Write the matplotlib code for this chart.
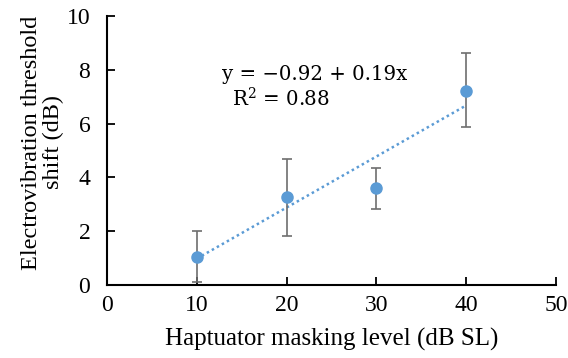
import matplotlib
matplotlib.use("Agg")
import matplotlib.pyplot as plt

masking = [10, 20, 30, 40]
shift = [1.05, 3.26, 3.59, 7.22]
err_low = [0.93, 1.43, 0.77, 1.36]
err_high = [0.95, 1.42, 0.77, 1.39]
intercept, slope = -0.92, 0.19

SERIF = ["Liberation Serif", "DejaVu Serif"]
EQF = ["DejaVu Serif"]
plt.rcParams['font.family'] = SERIF
plt.rcParams['mathtext.fontset'] = 'dejavuserif'

fig = plt.figure(figsize=(5.68, 3.58), dpi=100)
ax = fig.add_axes([0.1884, 0.204, 0.7906, 0.751])

blue = "#5B9BD5"
fx = [masking[0], masking[-1]]
ax.plot(fx, [intercept + slope * v for v in fx], linestyle=(0, (1, 1.3)), color=blue, lw=1.8, zorder=2)
ax.errorbar(masking, shift, yerr=[err_low, err_high], fmt="none", ecolor="#6e6e6e",
            elinewidth=1.2, capsize=3.5, capthick=1.2, zorder=3)
ax.plot(masking, shift, "o", color=blue, ms=8, zorder=4)

ax.text(12.8, 7.62, "y = \u22120.92 + 0.19x", fontsize=14.2, family=EQF, va="baseline")
ax.text(13.9, 6.62, r"R$^{2}$ = 0.88", fontsize=14.2, family=EQF, va="baseline")

ax.set_xlim(0, 50)
ax.set_ylim(0, 10)
ax.set_xticks(range(0, 51, 10))
ax.set_yticks(range(0, 11, 2))
ax.tick_params(direction="in", length=6, width=1.3, labelsize=17)
ax.tick_params(axis="x", pad=7)
ax.tick_params(axis="y", pad=12)
for lab in ax.get_xticklabels() + ax.get_yticklabels():
    lab.set_fontfamily(SERIF)
for s in ["top", "right"]:
    ax.spines[s].set_visible(False)
for s in ["left", "bottom"]:
    ax.spines[s].set_linewidth(1.5)
ax.set_xlabel("Haptuator masking level (dB SL)", fontsize=18, labelpad=9, family=SERIF)
ax.set_ylabel("Electrovibration threshold\nshift (dB)", fontsize=17.5, family=SERIF,
              multialignment="center", linespacing=1.05)
ax.yaxis.set_label_coords(-0.096, 0.53)

fig.savefig("out.png", dpi=100)
